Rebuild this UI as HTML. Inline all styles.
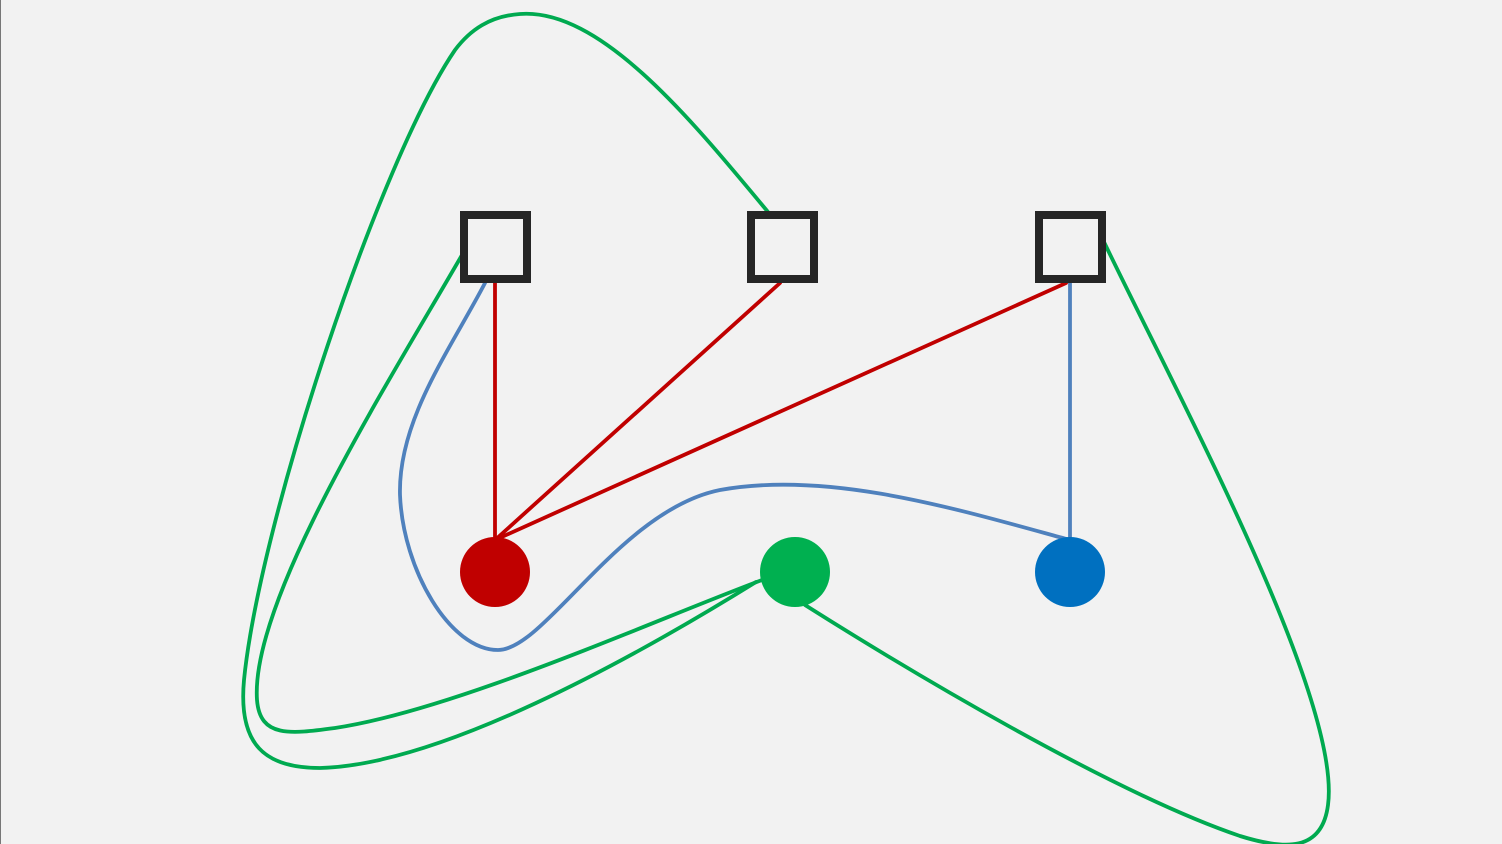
<!DOCTYPE html>
<html><head><meta charset="utf-8"><style>
html,body{margin:0;padding:0;background:#f2f2f2;}
svg{display:block;}
</style></head><body>
<svg width="1502" height="844" viewBox="0 0 1502 844" xmlns="http://www.w3.org/2000/svg">
<rect x="0" y="0" width="1502" height="844" fill="#f2f2f2"/>
<line x1="0.5" y1="0" x2="0.5" y2="844" stroke="#777" stroke-width="1"/>
<g fill="none" stroke-width="3.8" stroke-linecap="round">
<path d="M768,212 C690,118 600,8 520,14 C490,16 470,30 455,50 C380,160 260,520 244,680 C238,745 265,768 320,768 C440,765 630,660 756,582" stroke="#00aa50"/>
<path d="M462,255 C390,380 250,600 257,700 C260,738 290,734 335,728 C455,710 650,622 762,580" stroke="#00aa50"/>
<path d="M1104,242 C1180,400 1342,700 1328,805 C1322,852 1285,850 1240,836 C1110,792 900,665 805,605" stroke="#00aa50"/>
<path d="M485,283 C450,350 398,420 400,495 C403,570 450,650 498,650 C545,650 620,510 720,490 C830,470 960,510 1070,540" stroke="#4f81bd"/>
<line x1="1070" y1="283" x2="1070" y2="540" stroke="#4f81bd"/>
<line x1="495" y1="283" x2="495" y2="540" stroke="#c00000"/>
<line x1="780" y1="283" x2="495" y2="540" stroke="#c00000"/>
<line x1="1066" y1="283" x2="495" y2="540" stroke="#c00000"/>
</g>
<g fill="none" stroke="#262626" stroke-width="8">
<rect x="464" y="215" width="63" height="64"/>
<rect x="751" y="215" width="63" height="64"/>
<rect x="1039" y="215" width="63" height="64"/>
</g>
<circle cx="495" cy="572" r="35" fill="#c00000"/>
<circle cx="795" cy="572" r="35" fill="#00b050"/>
<circle cx="1070" cy="572" r="35" fill="#0070c0"/>
</svg>
</body></html>
